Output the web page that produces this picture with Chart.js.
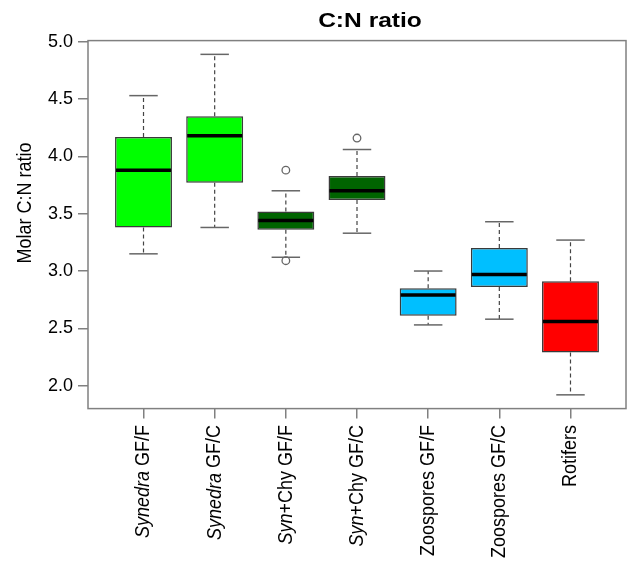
<!DOCTYPE html>
<html>
<head>
<meta charset="utf-8">
<script src="https://cdn.jsdelivr.net/npm/chart.js@4.4.0/dist/chart.umd.min.js"></script>
<style>
  body { margin: 0; background: #fff; }
  #wrap { width: 633px; height: 565px; }
</style>
</head>
<body>
<div id="wrap"><canvas id="myChart"></canvas></div>
<script>
'use strict'

// category labels: italic part + plain part
const labelItalic = ['Synedra', 'Synedra', 'Syn', 'Syn', '', '', ''];
const labelPlain = [' GF/F', ' GF/C', '+Chy GF/F', '+Chy GF/C', 'Zoospores GF/F', 'Zoospores GF/C', 'Rotifers'];

const whiskerLow = [3.15, 3.38, 3.12, 3.33, 2.53, 2.58, 1.92];
const q1 = [3.38, 3.77, 3.36, 3.62, 2.61, 2.86, 2.29];
const median = [3.88, 4.18, 3.44, 3.70, 2.79, 2.97, 2.56];
const q3 = [4.17, 4.35, 3.52, 3.83, 2.85, 3.20, 2.91];
const whiskerHigh = [4.53, 4.89, 3.70, 4.06, 3.00, 3.43, 3.27];

const outlierGroup = [3, 3, 4];
const outlierValue = [3.88, 3.09, 4.16];

const yTicks = [2.0, 2.5, 3.0, 3.5, 4.0, 4.5, 5.0];

const boxColors = ['#00ff00', '#00ff00', '#006400', '#006400', '#00bfff', '#00bfff', '#ff0000'];

const FONT = "'Liberation Sans', Arial, sans-serif";
const STRETCH = 1.17;

let boxData = [];
for (let i = 0; i < q1.length; i++) {
    boxData.push({ x: i + 1, y: [q1[i], q3[i]] });
}
let outlierData = [];
for (let i = 0; i < outlierGroup.length; i++) {
    outlierData.push({ x: outlierGroup[i], y: outlierValue[i] });
}

function line(ctx, x1, y1, x2, y2) {
    ctx.beginPath();
    ctx.moveTo(x1, y1);
    ctx.lineTo(x2, y2);
    ctx.stroke();
}

const boxParts = {
    id: 'boxParts',
    beforeDatasetsDraw(chart) {
        const ctx = chart.ctx;
        const xs = chart.scales.x;
        const ys = chart.scales.y;
        const step = xs.getPixelForValue(2) - xs.getPixelForValue(1);
        ctx.save();
        for (let i = 0; i < q1.length; i++) {
            const x = xs.getPixelForValue(i + 1);
            ctx.setLineDash([4, 3]);
            ctx.strokeStyle = '#444';
            ctx.lineWidth = 1.2;
            line(ctx, x, ys.getPixelForValue(q3[i]), x, ys.getPixelForValue(whiskerHigh[i]));
            line(ctx, x, ys.getPixelForValue(q1[i]), x, ys.getPixelForValue(whiskerLow[i]));
            ctx.setLineDash([]);
            ctx.strokeStyle = '#666';
            ctx.lineWidth = 1.5;
            const cap = step * 0.2;
            let yh = ys.getPixelForValue(whiskerHigh[i]);
            let yl = ys.getPixelForValue(whiskerLow[i]);
            line(ctx, x - cap, yh, x + cap, yh);
            line(ctx, x - cap, yl, x + cap, yl);
        }
        ctx.restore();
    },
    afterDatasetsDraw(chart) {
        const ctx = chart.ctx;
        const xs = chart.scales.x;
        const ys = chart.scales.y;
        const half = 0.4 * (xs.getPixelForValue(2) - xs.getPixelForValue(1));
        ctx.save();
        ctx.strokeStyle = '#000';
        ctx.lineWidth = 3.5;
        for (let i = 0; i < median.length; i++) {
            const x = xs.getPixelForValue(i + 1);
            const y = ys.getPixelForValue(median[i]);
            line(ctx, x - half + 1, y, x + half - 1, y);
        }
        ctx.restore();
    },
    afterDraw(chart) {
        const ctx = chart.ctx;
        const a = chart.chartArea;
        const xs = chart.scales.x;
        ctx.save();
        // frame
        ctx.strokeStyle = '#808080';
        ctx.lineWidth = 1.5;
        ctx.strokeRect(a.left, a.top, a.right - a.left, a.bottom - a.top);

        ctx.fillStyle = '#000';
        // title
        ctx.save();
        ctx.translate(370, 21);
        ctx.scale(STRETCH, 1);
        ctx.font = 'bold 21px ' + FONT;
        ctx.textAlign = 'center';
        ctx.textBaseline = 'middle';
        ctx.fillText('C:N ratio', 0, 0);
        ctx.restore();

        // y axis title
        ctx.save();
        ctx.translate(25, 203);
        ctx.rotate(-Math.PI / 2);
        ctx.scale(1, STRETCH);
        ctx.font = '18px ' + FONT;
        ctx.textAlign = 'center';
        ctx.textBaseline = 'middle';
        ctx.fillText('Molar C:N ratio', 0, 0);
        ctx.restore();

        // x labels, rotated, with italic part
        for (let i = 0; i < labelPlain.length; i++) {
            const x = xs.getPixelForValue(i + 1);
            ctx.save();
            ctx.translate(x, 425);
            ctx.rotate(-Math.PI / 2);
            ctx.scale(1, STRETCH);
            ctx.textBaseline = 'middle';
            ctx.textAlign = 'left';
            ctx.font = 'italic 18px ' + FONT;
            const wi = ctx.measureText(labelItalic[i]).width;
            ctx.font = '18px ' + FONT;
            const wp = ctx.measureText(labelPlain[i]).width;
            let start = -(wi + wp);
            if (labelItalic[i]) {
                ctx.font = 'italic 18px ' + FONT;
                ctx.fillText(labelItalic[i], start, 0);
            }
            ctx.font = '18px ' + FONT;
            ctx.fillText(labelPlain[i], start + wi, 0);
            ctx.restore();
        }
        ctx.restore();
    }
};

const ctx = document.getElementById('myChart').getContext('2d');
const myChart = new Chart(ctx, {
    type: 'bar',
    data: {
        datasets: [{
            type: 'bar',
            data: boxData,
            backgroundColor: boxColors,
            borderColor: '#3a3a3a',
            borderWidth: 1.5,
            borderSkipped: false,
            barPercentage: 0.8,
            categoryPercentage: 1,
            order: 2
        }, {
            type: 'scatter',
            data: outlierData,
            pointStyle: 'circle',
            pointRadius: 3.8,
            backgroundColor: 'rgba(0,0,0,0)',
            borderColor: '#666',
            borderWidth: 1.3,
            order: 1
        }]
    },
    options: {
        responsive: true,
        maintainAspectRatio: false,
        animation: false,
        layout: { padding: { top: 40.6, right: 7, left: 0, bottom: 0 } },
        plugins: {
            legend: { display: false },
            tooltip: { enabled: false }
        },
        scales: {
            x: {
                type: 'linear',
                min: 0.22,
                max: 7.78,
                offset: false,
                afterBuildTicks: (s) => { s.ticks = labelPlain.map((_, i) => ({ value: i + 1 })); },
                afterFit: (s) => { s.height = 156.4; },
                grid: { offset: false, drawOnChartArea: false, drawTicks: true, tickLength: 10, color: '#808080', lineWidth: 1.5 },
                border: { display: false },
                ticks: { display: false }
            },
            y: {
                min: 1.8,
                max: 5.01,
                afterBuildTicks: (s) => { s.ticks = yTicks.map(v => ({ value: v })); },
                afterFit: (s) => { s.width = 88; },
                grid: { drawOnChartArea: false, drawTicks: true, tickLength: 10, color: '#808080', lineWidth: 1.5 },
                border: { display: false },
                ticks: {
                    padding: 5,
                    color: '#000',
                    font: { family: FONT, size: 18 },
                    callback: (v) => v.toFixed(1)
                }
            }
        }
    },
    plugins: [boxParts]
});
</script>
</body>
</html>
